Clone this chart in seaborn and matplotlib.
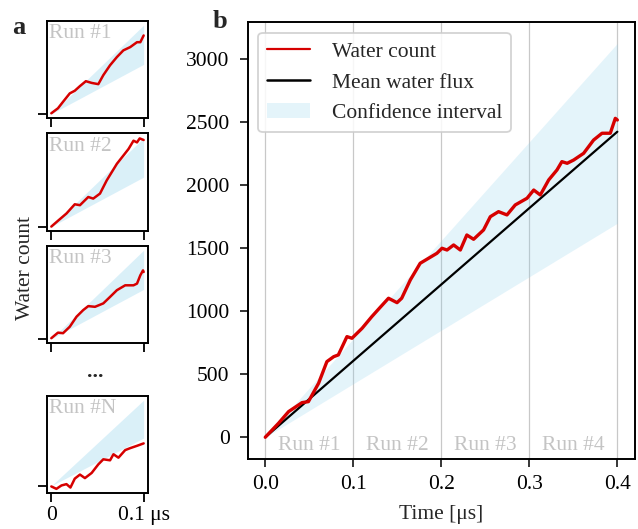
import matplotlib
matplotlib.use("Agg")
import matplotlib.pyplot as plt
from matplotlib.lines import Line2D
from matplotlib.patches import Patch
import seaborn as sns
import pandas as pd

# ---------------- data ----------------
# main panel (b): water count over the concatenated runs
main_t = [0.0, 0.0151, 0.0265, 0.0417, 0.049, 0.0606, 0.070, 0.0777, 0.083, 0.0928,
          0.0985, 0.110, 0.121, 0.1307, 0.140, 0.1497, 0.155, 0.1648, 0.176, 0.1856,
          0.195, 0.2008, 0.2065, 0.214, 0.2216, 0.229, 0.2367, 0.248, 0.2557, 0.265,
          0.2746, 0.284, 0.2974, 0.305, 0.3125, 0.322, 0.3314, 0.337, 0.343, 0.3504,
          0.3617, 0.373, 0.3826, 0.392, 0.3977, 0.400]
main_count = [0, 111, 203, 274, 282, 428, 599, 638, 652, 797,
              784, 863, 955, 1030, 1101, 1066, 1101, 1246, 1378, 1418,
              1457, 1497, 1483, 1523, 1483, 1602, 1568, 1642, 1747, 1787,
              1761, 1840, 1893, 1958, 1919, 2038, 2117, 2183, 2170, 2196,
              2249, 2354, 2408, 2408, 2526, 2513]
mean_t = [0.0, 0.4]
mean_count = [0, 2420]
ci_t = [0.0, 0.4]
ci_low = [0, 1695]
ci_high = [0, 3120]
run_labels = ["Run #1", "Run #2", "Run #3", "Run #4"]
run_centers = [0.05, 0.15, 0.25, 0.35]

# small panels (a): individual runs
run1_t = [0.0, 0.0072, 0.0127, 0.020, 0.0254, 0.031, 0.0374, 0.0437, 0.0509, 0.0563,
          0.0636, 0.071, 0.078, 0.0855, 0.0928, 0.0964, 0.100]
run1_count = [5, 49, 106, 180, 203, 244, 287, 272, 261, 340,
              427, 499, 558, 587, 630, 630, 689]
run2_t = [0.0, 0.0072, 0.0164, 0.0254, 0.031, 0.040, 0.0454, 0.0527, 0.060, 0.071,
          0.078, 0.0836, 0.089, 0.0928, 0.0957, 0.100]
run2_count = [0, 51, 115, 196, 188, 260, 246, 290, 406, 552,
              624, 682, 755, 740, 775, 761]
run3_t = [0.0, 0.0072, 0.0127, 0.020, 0.0273, 0.0345, 0.040, 0.0473, 0.0563, 0.0636,
          0.071, 0.080, 0.089, 0.0928, 0.0964, 0.0993, 0.100]
run3_count = [6, 55, 50, 107, 195, 253, 288, 282, 312, 369,
              428, 471, 471, 486, 559, 602, 588]
runN_t = [0.0, 0.0055, 0.011, 0.0164, 0.0207, 0.0254, 0.031, 0.0364, 0.0437, 0.0509,
          0.0563, 0.0636, 0.0673, 0.0727, 0.080, 0.0855, 0.0928, 0.100]
runN_count = [-6, -28, 3, 15, -16, 65, 102, 70, 117, 195,
              241, 232, 287, 256, 325, 343, 364, 386]
small_ci_t = [0.0, 0.1]
small_ci_low = [0, 435]
small_ci_high = [0, 780]
small_labels = ["Run #1", "Run #2", "Run #3", "Run #N"]

# ---------------- style ----------------
sns.set_style("ticks")
plt.rcParams["font.family"] = ["Liberation Serif", "DejaVu Serif"]
plt.rcParams["mathtext.fontset"] = "stix"
plt.rcParams.update({
    "axes.edgecolor": "black",
    "axes.linewidth": 1.2,
    "xtick.color": "black",
    "ytick.color": "black",
    "xtick.major.size": 6,
    "ytick.major.size": 6,
    "xtick.major.width": 1.1,
    "ytick.major.width": 1.1,
    "xtick.direction": "out",
    "ytick.direction": "out",
    "font.size": 15.5,
})

RED = "#d60000"
CI_COLOR = "skyblue"
GRAY_TXT = "#c4c4c4"
FS = 15.5

fig = plt.figure(figsize=(6.38, 5.29), dpi=100)

# ---------------- main panel ----------------
ax = fig.add_axes([0.3882, 0.1329, 0.607, 0.825])
ax.fill_between(ci_t, ci_low, ci_high, color=CI_COLOR, alpha=0.22, lw=0, zorder=1)
sns.lineplot(x=mean_t, y=mean_count, ax=ax, color="black", lw=1.6, zorder=3,
             estimator=None, sort=False)
sns.lineplot(x=main_t, y=main_count, ax=ax, color=RED, lw=2.4, zorder=4,
             estimator=None, sort=False)
ax.set_xlim(-0.02, 0.42)
ax.set_ylim(-170, 3287)
ax.set_xticks([0.0, 0.1, 0.2, 0.3, 0.4])
ax.set_xticklabels(["0.0", "0.1", "0.2", "0.3", "0.4"])
ax.set_yticks([0, 500, 1000, 1500, 2000, 2500, 3000])
ax.tick_params(axis="x", labelsize=FS, pad=6)
ax.tick_params(axis="y", labelsize=FS, pad=7)
ax.xaxis.grid(True, color="#c8c8c8", lw=0.9, zorder=0)
ax.yaxis.grid(False)
ax.set_axisbelow(True)
for s in ax.spines.values():
    s.set_visible(True)
    s.set_linewidth(1.4)
ax.set_xlabel("Time [μs]", fontsize=FS, labelpad=8)
ax.set_ylabel("")
for lab, c in zip(run_labels, run_centers):
    ax.text(c, -62, lab, ha="center", va="center", color=GRAY_TXT, fontsize=FS, zorder=2)

handles = [Line2D([], [], color=RED, lw=1.6),
           Line2D([], [], color="black", lw=1.8),
           Patch(facecolor=CI_COLOR, alpha=0.22, edgecolor="none")]
leg = ax.legend(handles, ["Water count", "Mean water flux", "Confidence interval"],
                loc="upper left", fontsize=FS, frameon=True, fancybox=True,
                framealpha=0.85, edgecolor="#cccccc", borderaxespad=0.5,
                handletextpad=1.0)
leg.get_frame().set_linewidth(1.3)

# ---------------- small panels ----------------
small_bottoms = [0.7764, 0.5633, 0.351, 0.0675]
small_data = [(run1_t, run1_count), (run2_t, run2_count),
              (run3_t, run3_count), (runN_t, runN_count)]
for i, ((tt, cc), b, lab) in enumerate(zip(small_data, small_bottoms, small_labels)):
    a = fig.add_axes([0.0732, b, 0.1592, 0.1845])
    a.fill_between(small_ci_t, small_ci_low, small_ci_high, color=CI_COLOR,
                   alpha=0.3, lw=0, zorder=1)
    sns.lineplot(x=tt, y=cc, ax=a, color=RED, lw=1.8, zorder=3,
                 estimator=None, sort=False)
    a.margins(x=0.05, y=0.05)
    a.autoscale()
    a.set_xticks([0.0, 0.1])
    a.set_yticks([0])
    a.set_yticklabels([])
    if i == 3:
        a.set_xticklabels(["0", "0.1 μs"])
    else:
        a.set_xticklabels([])
    a.tick_params(axis="both", length=6.5, width=1.3, labelsize=FS, pad=3)
    a.grid(False)
    for s in a.spines.values():
        s.set_visible(True)
        s.set_linewidth(1.4)
    a.set_xlabel("")
    a.set_ylabel("")
    a.text(0.02, 0.965, lab, transform=a.transAxes, ha="left", va="top",
           color=GRAY_TXT, fontsize=FS)

# ---------------- figure texts ----------------
fig.text(25 / 638, 1 - 268 / 529, "Water count", rotation=90, ha="center",
         va="center", fontsize=FS)
fig.text(95 / 638, 1 - 372 / 529, "...", ha="center", va="center",
         fontsize=FS, fontweight="bold")
fig.text(18.5 / 638, 1 - 27 / 529, "a", ha="center", va="center",
         fontsize=19, fontweight="bold")
fig.text(219.5 / 638, 1 - 22 / 529, "b", ha="center", va="center",
         fontsize=19, fontweight="bold")

fig.savefig("out.png", dpi=100)
